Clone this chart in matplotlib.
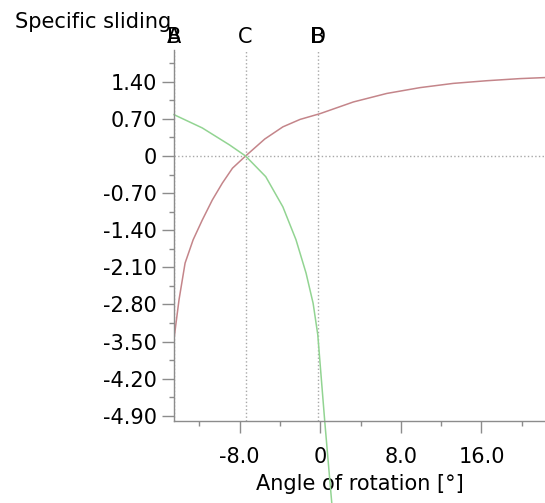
import numpy as np
from matplotlib import pyplot as plt
from matplotlib.transforms import blended_transform_factory

# values
red_x = [-14.5, -14.0, -13.4, -12.6, -11.7, -10.7, -9.7, -8.7, -7.4, -5.5,
         -3.7, -2.0, 0.0, 3.3, 6.6, 9.9, 13.2, 16.5, 19.8, 22.3]
red_y = [-3.45, -2.71, -2.02, -1.58, -1.21, -0.83, -0.51, -0.23, 0.0, 0.32,
         0.55, 0.69, 0.80, 1.02, 1.18, 1.29, 1.37, 1.42, 1.46, 1.48]

green_x = [-14.5, -11.7, -9.0, -7.4, -5.4, -3.7, -2.4, -1.4, -0.7, -0.24,
           0.45, 1.15, 1.35]
green_y = [0.78, 0.53, 0.21, 0.0, -0.39, -0.96, -1.58, -2.21, -2.78, -3.37,
           -5.0, -6.55, -7.0]

marker_x = [-14.5, -7.4, -0.25]
marker_labels = [["A", "B"], ["C"], ["B", "D"]]

xticks = [-8.0, 0.0, 8.0, 16.0]
xtick_labels = ["-8.0", "0", "8.0", "16.0"]
xminor = [-12.0, -4.0, 4.0, 12.0, 20.0]
yticks = [1.40, 0.70, 0.0, -0.70, -1.40, -2.10, -2.80, -3.50, -4.20, -4.90]
ytick_labels = ["1.40", "0.70", "0", "-0.70", "-1.40", "-2.10", "-2.80",
                "-3.50", "-4.20", "-4.90"]
yminor = [1.75, 1.05, 0.35, -0.35, -1.05, -1.75, -2.45, -3.15, -3.85, -4.55]

fs = 15
axis_col = "#8c8c8c"
grid_col = "#a8a8a8"

fig = plt.figure(figsize=(5.45, 5.03), dpi=100)
ax = fig.add_axes([174/545, 82/503, 1 - 174/545, 371/503])
ax.set_xlim(-14.5, 22.3)
ax.set_ylim(-5.0, 2.0)

for s in ["top", "right"]:
    ax.spines[s].set_visible(False)
for s in ["left", "bottom"]:
    ax.spines[s].set_color(axis_col)
    ax.spines[s].set_linewidth(1)

ax.axhline(0, color=grid_col, ls=":", lw=1)
for xv in marker_x:
    ax.axvline(xv, color=grid_col, ls=":", lw=1)

ax.plot(red_x, red_y, color="#c4858a", lw=1.1)
ax.plot(green_x, green_y, color="#92d492", lw=1.1, clip_on=False)

ax.set_xticks(xticks)
ax.set_xticklabels(xtick_labels)
ax.set_xticks(xminor, minor=True)
ax.set_yticks(yticks)
ax.set_yticklabels(ytick_labels)
ax.set_yticks(yminor, minor=True)
ax.tick_params(which="major", length=8.5, width=1, color=axis_col,
               labelsize=fs, pad=4)
ax.tick_params(which="minor", length=3.6, width=1, color=axis_col)
ax.tick_params(axis="x", which="major", pad=10)

ax.set_xlabel("Angle of rotation [°]", fontsize=fs, labelpad=5)

trans = blended_transform_factory(ax.transData, ax.transAxes)
for xv, labs in zip(marker_x, marker_labels):
    for lab in labs:
        ax.text(xv, 1.035, lab, transform=trans, ha="center", va="center",
                fontsize=fs, clip_on=False)

fig.text(15/545, 1 - 22/503, "Specific sliding", fontsize=fs,
         ha="left", va="center")

plt.savefig("out.png", dpi=100)
